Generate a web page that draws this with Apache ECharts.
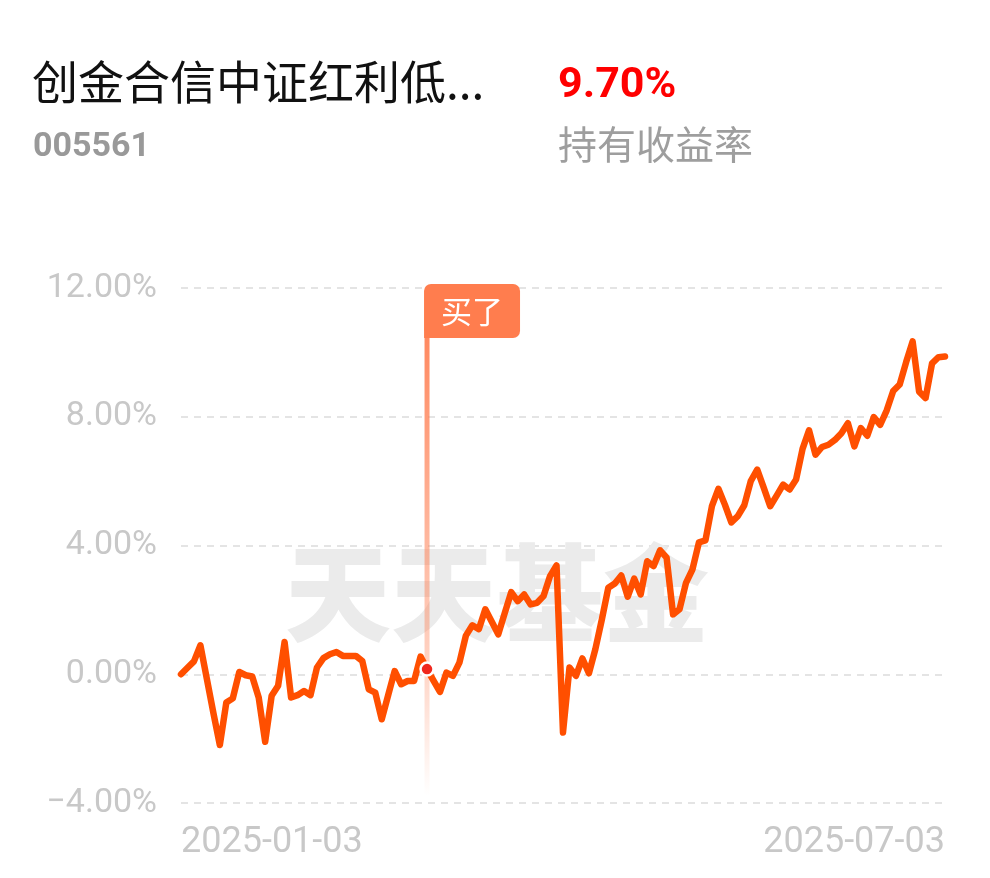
<!DOCTYPE html>
<html>
<head>
<meta charset="utf-8">
<script src="https://cdn.jsdelivr.net/npm/echarts@6/dist/echarts.min.js"></script>
<style>
html,body{margin:0;padding:0;background:#fff;}
#main{width:990px;height:878px;}
</style>
</head>
<body>
<div id="main"></div>
<script>
// ---- data ----
const fundName = '创金合信中证红利低...';
const fundCode = '005561';
const holdReturn = '9.70%';
const holdReturnLabel = '持有收益率';
const watermark = '天天基金';
const buyLabel = '买了';
const buyDate = '2025-03-06';

const dates = [
'2025-01-03','2025-01-06','2025-01-07','2025-01-08','2025-01-09','2025-01-10','2025-01-13','2025-01-14','2025-01-15','2025-01-16',
'2025-01-17','2025-01-20','2025-01-21','2025-01-22','2025-01-23','2025-01-24','2025-01-27','2025-02-05','2025-02-06','2025-02-07',
'2025-02-10','2025-02-11','2025-02-12','2025-02-13','2025-02-14','2025-02-17','2025-02-18','2025-02-19','2025-02-20','2025-02-21',
'2025-02-24','2025-02-25','2025-02-26','2025-02-27','2025-02-28','2025-03-03','2025-03-04','2025-03-05','2025-03-06','2025-03-07',
'2025-03-10','2025-03-11','2025-03-12','2025-03-13','2025-03-14','2025-03-17','2025-03-18','2025-03-19','2025-03-20','2025-03-21',
'2025-03-24','2025-03-25','2025-03-26','2025-03-27','2025-03-28','2025-03-31','2025-04-01','2025-04-02','2025-04-03','2025-04-07',
'2025-04-08','2025-04-09','2025-04-10','2025-04-11','2025-04-14','2025-04-15','2025-04-16','2025-04-17','2025-04-18','2025-04-21',
'2025-04-22','2025-04-23','2025-04-24','2025-04-25','2025-04-28','2025-04-29','2025-04-30','2025-05-06','2025-05-07','2025-05-08',
'2025-05-09','2025-05-12','2025-05-13','2025-05-14','2025-05-15','2025-05-16','2025-05-19','2025-05-20','2025-05-21','2025-05-22',
'2025-05-23','2025-05-26','2025-05-27','2025-05-28','2025-05-29','2025-05-30','2025-06-03','2025-06-04','2025-06-05','2025-06-06',
'2025-06-09','2025-06-10','2025-06-11','2025-06-12','2025-06-13','2025-06-16','2025-06-17','2025-06-18','2025-06-19','2025-06-20',
'2025-06-23','2025-06-24','2025-06-25','2025-06-26','2025-06-27','2025-06-30','2025-07-01','2025-07-02','2025-07-03'
];

const values = [
0.00, 0.20, 0.40, 0.90, -0.15, -1.20, -2.20, -0.88, -0.75, 0.07,
-0.03, -0.07, -0.72, -2.10, -0.67, -0.36, 1.00, -0.72, -0.65, -0.52,
-0.65, 0.21, 0.50, 0.62, 0.69, 0.57, 0.57, 0.57, 0.41, -0.47,
-0.57, -1.40, -0.65, 0.10, -0.31, -0.21, -0.21, 0.55, 0.16, -0.20,
-0.55, 0.05, -0.05, 0.36, 1.20, 1.52, 1.40, 2.02, 1.63, 1.24,
1.90, 2.55, 2.27, 2.48, 2.17, 2.22, 2.43, 3.05, 3.38, -1.81,
0.21, -0.05, 0.49, 0.03, 0.78, 1.70, 2.69, 2.82, 3.07, 2.41,
2.97, 2.48, 3.51, 3.36, 3.85, 3.62, 1.86, 2.02, 2.84, 3.26,
4.10, 4.16, 5.22, 5.76, 5.27, 4.72, 4.91, 5.25, 6.00, 6.36,
5.80, 5.22, 5.55, 5.89, 5.74, 6.05, 7.00, 7.58, 6.82, 7.06,
7.13, 7.28, 7.49, 7.80, 7.08, 7.65, 7.41, 7.99, 7.75, 8.20,
8.80, 9.00, 9.70, 10.34, 8.78, 8.58, 9.66, 9.85, 9.87
];

const yMin = -4, yMax = 12, yStep = 4;

// ---- chart ----
const chart = echarts.init(document.getElementById('main'), null, {renderer: 'canvas'});
const numFont = 'Roboto, "Noto Sans", sans-serif';
const cjkFont = '"Noto Sans CJK SC", "Noto Sans", sans-serif';
const lastIdx = dates.length - 1;
const buyIdx = dates.indexOf(buyDate);

const option = {
  backgroundColor: '#fff',
  animation: false,
  title: [
    {text: fundName, left: 32, top: 59, padding: 0, textStyle: {fontFamily: cjkFont, fontSize: 46, fontWeight: 'normal', color: '#111'}},
    {text: fundCode, left: 33, top: 130, padding: 0, textStyle: {fontFamily: numFont, fontSize: 34, fontWeight: 'bold', color: '#999'}},
    {text: holdReturn, left: 558, top: 65, padding: 0, textStyle: {fontFamily: numFont, fontSize: 43, fontWeight: 'bold', color: '#f00'}},
    {text: holdReturnLabel, left: 558, top: 125, padding: 0, textStyle: {fontFamily: cjkFont, fontSize: 39, fontWeight: 'normal', color: '#9e9e9e'}}
  ],
  grid: {left: 181, right: 45, top: 288, bottom: 75, containLabel: false},
  xAxis: {
    type: 'category',
    data: dates,
    boundaryGap: false,
    axisLine: {show: false},
    axisTick: {show: false},
    splitLine: {show: false},
    axisLabel: {
      interval: function (i) { return i === 0 || i === lastIdx; },
      showMinLabel: true,
      showMaxLabel: true,
      alignMinLabel: 'left',
      alignMaxLabel: 'right',
      margin: 22,
      fontFamily: numFont,
      fontSize: 36,
      color: '#c8c8c8'
    }
  },
  yAxis: {
    type: 'value',
    min: yMin, max: yMax, interval: yStep,
    axisLine: {show: false},
    axisTick: {show: false},
    axisLabel: {
      margin: 24,
      fontFamily: numFont,
      fontSize: 34,
      color: '#c8c8c8',
      formatter: function (v) { return (v < 0 ? '\u2212' + Math.abs(v).toFixed(2) : v.toFixed(2)) + '%'; }
    },
    splitLine: {lineStyle: {color: '#e4e4e4', width: 2, type: [7, 6]}}
  },
  series: [{
    type: 'line',
    data: values,
    symbol: 'none',
    z: 3,
    lineStyle: {color: '#ff4f00', width: 6.5, cap: 'round', join: 'round'},
    markPoint: {
      symbol: 'circle',
      symbolSize: 13,
      itemStyle: {color: '#f0281e', borderColor: '#fff', borderWidth: 2.5},
      label: {show: false},
      data: [{coord: [buyDate, values[buyIdx]]}],
      z: 5
    }
  }]
};
chart.setOption(option);

// buy flag and watermark, positioned through the x axis scale
const xPx = chart.convertToPixel({xAxisIndex: 0}, buyDate);
chart.setOption({
  graphic: [
    {type: 'text', left: 285, top: 540, z: 0, style: {text: watermark, fontFamily: cjkFont, fontSize: 106, fontWeight: 900, fill: '#ebebeb'}},
    {
      type: 'rect', z: 1,
      shape: {x: xPx - 2.5, y: 338, width: 5, height: 458},
      style: {fill: new echarts.graphic.LinearGradient(0, 0, 0, 1, [
        {offset: 0, color: 'rgba(255,125,80,0.9)'},
        {offset: 0.7, color: 'rgba(255,125,80,0.35)'},
        {offset: 1, color: 'rgba(255,125,80,0)'}
      ])}
    },
    {
      type: 'rect', z: 10,
      shape: {x: xPx - 3, y: 284, width: 96, height: 54, r: [7, 7, 7, 0]},
      style: {fill: '#ff7d4e'}
    },
    {
      type: 'text', z: 11,
      x: xPx - 3 + 48, y: 311,
      style: {text: buyLabel, fontFamily: cjkFont, fontSize: 31, fill: '#fff', align: 'center', verticalAlign: 'middle'}
    }
  ]
});
</script>
</body>
</html>
